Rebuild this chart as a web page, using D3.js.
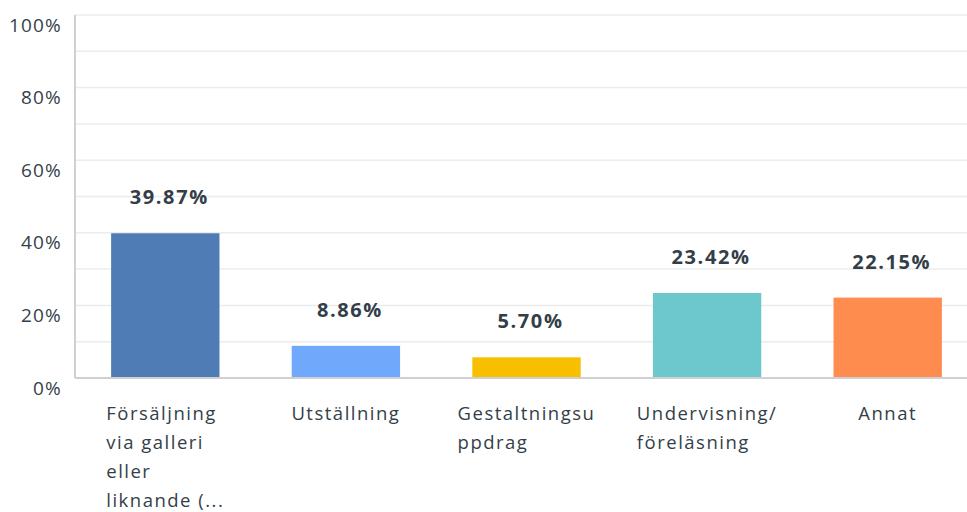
<!DOCTYPE html>
<html>
<head>
<meta charset="utf-8">
<script src="https://cdn.jsdelivr.net/npm/d3@7"></script>
<style>
  body { margin: 0; background: #fff; }
  svg { display: block; font-family: "Open Sans", Roboto, sans-serif; }
</style>
</head>
<body>
<div id="chart"></div>
<script>
// answer categories, wrapped as in the reference
const categories = [
  ["Försäljning", "via galleri", "eller", "liknande (..."],
  ["Utställning"],
  ["Gestaltningsu", "ppdrag"],
  ["Undervisning/", "föreläsning"],
  ["Annat"]
];
const values = [39.87, 8.86, 5.70, 23.42, 22.15];
const colors = ["#4f7cb5", "#70a8fc", "#f8be00", "#6cc8cd", "#ff8c4f"];
const yTicks = [0, 20, 40, 60, 80, 100];

const width = 967, height = 512,
      margin = {top: 15, right: -11, bottom: 134, left: 75};

const svg = d3.select("#chart").append("svg")
    .attr("width", width)
    .attr("height", height);

const data = values.map((v, i) => ({i, v, label: categories[i], color: colors[i]}));

const x = d3.scaleBand()
    .domain(data.map(d => d.i))
    .range([margin.left, width - margin.right])
    .paddingInner(0.4)
    .paddingOuter(0.2);

const y = d3.scaleLinear()
    .domain([0, 100])
    .range([height - margin.bottom, margin.top]);

// gridlines every 10%
svg.append("g")
  .selectAll("line")
  .data(d3.range(10, 101, 10))
  .join("line")
    .attr("x1", margin.left)
    .attr("x2", width)
    .attr("y1", d => y(d))
    .attr("y2", d => y(d))
    .attr("stroke", "#ececec")
    .attr("stroke-width", 1.5);

// y axis labels (sit a bit under their gridline)
const yAxis = svg.append("g")
    .attr("transform", `translate(${margin.left - 13}, 10)`)
    .call(d3.axisLeft(y).tickValues(yTicks).tickFormat(d => d + "%").tickSize(0));
yAxis.select(".domain").remove();
yAxis.selectAll("text")
    .attr("x", 0)
    .attr("fill", "#353f4a")
    .style("font-size", "19px")
    .style("letter-spacing", "1.2px")
    .style("font-family", "'Open Sans', sans-serif");

// axis lines
svg.append("line")
    .attr("x1", margin.left).attr("x2", margin.left)
    .attr("y1", y(100)).attr("y2", y(0))
    .attr("stroke", "#d0d0d0").attr("stroke-width", 2);
svg.append("line")
    .attr("x1", margin.left).attr("x2", width)
    .attr("y1", y(0)).attr("y2", y(0))
    .attr("stroke", "#d0d0d0").attr("stroke-width", 2);

// bars
svg.append("g")
  .selectAll("rect")
  .data(data)
  .join("rect")
    .attr("x", d => x(d.i))
    .attr("width", x.bandwidth())
    .attr("y", d => y(d.v))
    .attr("height", d => y(0) - y(d.v) - 1)
    .attr("fill", d => d.color);

// value labels
svg.append("g")
  .selectAll("text")
  .data(data)
  .join("text")
    .attr("x", d => x(d.i) + x.bandwidth() / 2 + 4)
    .attr("y", d => y(d.v) - 29)
    .attr("text-anchor", "middle")
    .attr("fill", "#333e48")
    .style("font-size", "20px")
    .style("letter-spacing", "1.6px")
    .style("font-weight", "bold")
    .text(d => d.v.toFixed(2) + "%");

// category labels: block centred on the band, lines left-aligned inside it
const lab = svg.append("g")
  .selectAll("text")
  .data(data)
  .join("text")
    .attr("y", y(0) + 42)
    .attr("fill", "#333e48")
    .style("font-size", "18.5px")
    .style("letter-spacing", "1.5px");
lab.selectAll("tspan")
  .data(d => d.label)
  .join("tspan")
    .attr("dy", (d, i) => i ? 29 : 0)
    .text(d => d);
lab.each(function(d) {
  const spans = d3.select(this).selectAll("tspan");
  let w = 0;
  spans.each(function() { w = Math.max(w, this.getComputedTextLength()); });
  const left = x(d.i) + x.bandwidth() / 2 - w / 2;
  spans.attr("x", left);
});
</script>
</body>
</html>
